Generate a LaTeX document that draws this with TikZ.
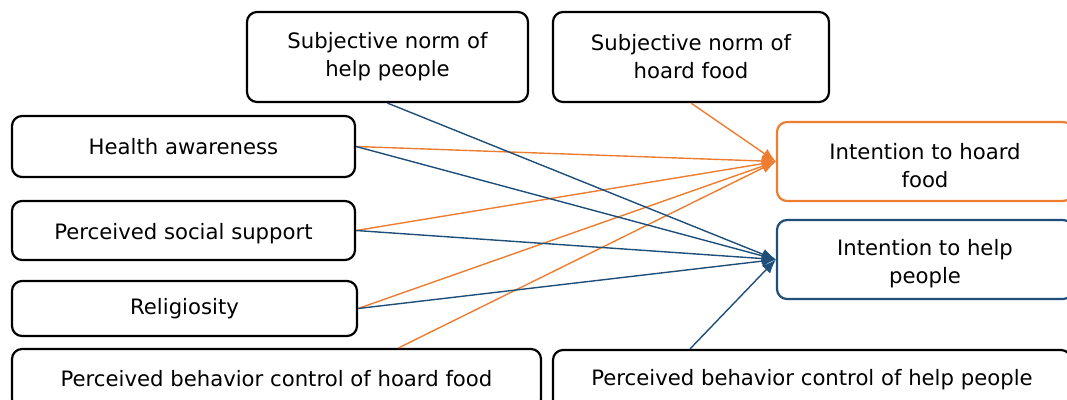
\documentclass[tikz,border=0pt]{standalone}
\usepackage{fontspec}
\setmainfont{DejaVu Sans}
\usetikzlibrary{arrows.meta}
\definecolor{org}{HTML}{ED7D31}
\definecolor{blu}{HTML}{1F4E79}
\begin{document}
\begin{tikzpicture}[x=1pt,y=-1pt,
  txt/.style={align=center, inner sep=0pt, font=\fontsize{21.2}{28}\selectfont},
  box/.style={txt, draw, line width=2.2pt, rounded corners=10pt},
  oarr/.style={draw=org, fill=org, line width=1.4pt, -{Latex[length=14pt,width=11pt]}},
  barr/.style={draw=blu, fill=blu, line width=1.4pt, -{Latex[length=14pt,width=11pt]}}]
\useasboundingbox (0,0) rectangle (1067,399);
\clip (0,0) rectangle (1067,399);
\node[box, minimum width=281pt, minimum height=90pt] (snh) at (387.5,57) {Subjective norm of\\help people};
\node[box, minimum width=276pt, minimum height=90pt] (snf) at (691,57) {Subjective norm of\\hoard food};
\node[box, minimum width=343pt, minimum height=61pt] (ha) at (183.5,146.5) {Health awareness};
\node[box, minimum width=343pt, minimum height=59pt] (pss) at (183.5,230.5) {};
\node[txt] (psst) at ([yshift=-3pt]pss.center) {Perceived social support};
\node[box, minimum width=345pt, minimum height=55pt] (rel) at (184.5,308.5) {Religiosity};
\node[box, minimum width=529pt, minimum height=60pt] (pbcf) at (276.5,379) {Perceived behavior control of hoard food};
\node[box, minimum width=518pt, minimum height=60pt] (pbch) at (812,380) {Perceived behavior control of help people};
\node[box, draw=org, minimum width=296pt, minimum height=79pt] (ihf) at (925,161.5) {};
\node[txt] (ihft) at ([yshift=-4pt]ihf.center) {Intention to hoard\\food};
\node[box, draw=blu, minimum width=296pt, minimum height=79pt] (ihp) at (925,259.5) {};
\node[txt] (ihpt) at ([yshift=-4pt]ihp.center) {Intention to help\\people};
\draw[oarr] (snf.south) -- (ihf.west);
\draw[oarr] (ha.east) -- (ihf.west);
\draw[oarr] (pss.east) -- (ihf.west);
\draw[oarr] (rel.east) -- (ihf.west);
\draw[oarr] ([xshift=122pt]pbcf.north) -- (ihf.west);
\draw[barr] (snh.south) -- (ihp.west);
\draw[barr] (ha.east) -- (ihp.west);
\draw[barr] (pss.east) -- (ihp.west);
\draw[barr] (rel.east) -- (ihp.west);
\draw[barr] ([xshift=-122pt]pbch.north) -- (ihp.west);
\end{tikzpicture}
\end{document}
